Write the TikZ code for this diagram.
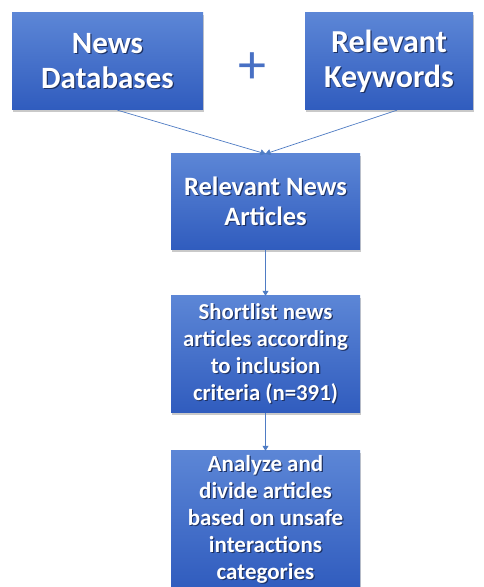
\documentclass[tikz,border=0pt]{standalone}
\usepackage{fontspec}
\setmainfont{Carlito}
\usetikzlibrary{arrows.meta,calc,shadows}
\definecolor{boxtop}{RGB}{92,134,214}
\definecolor{boxbot}{RGB}{48,92,190}
\definecolor{linecol}{RGB}{79,124,196}
\definecolor{pluscol}{RGB}{72,112,196}
\definecolor{txtshadow}{RGB}{30,50,100}
\newcommand\shd[1]{\makebox[0pt][l]{\hspace{1.2pt}\raisebox{-1.2pt}{\textcolor{txtshadow}{#1}}}#1}
\tikzset{
  bluebox/.style={rectangle, inner sep=0pt, top color=boxtop, bottom color=boxbot, draw=none,
    text=white, font=\bfseries, align=center,
    drop shadow={shadow xshift=1pt, shadow yshift=-2pt, opacity=0.35, fill=black!60}},
  conn/.style={draw=linecol, line width=0.7pt, -{Triangle[length=5pt,width=6pt]}}
}
\begin{document}
\begin{tikzpicture}[x=1pt,y=1pt]
\useasboundingbox (0,0) rectangle (483,587);
\fill[white] (0,0) rectangle (483,587);
\node[bluebox, minimum width=191pt, minimum height=97pt,
  font=\bfseries\fontsize{31}{35}\selectfont] (nd) at (107.5,525.5) {\shd{News}\\\shd{Databases}};
\node[bluebox, minimum width=168pt, minimum height=97pt,
  font=\bfseries\fontsize{32}{35}\selectfont] (rk) at (389,525.5) {\shd{Relevant}\\\shd{Keywords}};
\node[text=pluscol, font=\fontsize{56}{56}\selectfont, inner sep=0pt] (plus) at (252,519) {+};
\node[bluebox, minimum width=189pt, minimum height=96pt,
  font=\bfseries\fontsize{26.5}{30}\selectfont] (ra) at (265.5,385) {\shd{Relevant News}\\\shd{Articles}};
\node[bluebox, minimum width=189pt, minimum height=117pt,
  font=\bfseries\fontsize{22.8}{27}\selectfont] (sl) at (265.5,232.5) {\shd{Shortlist news}\\\shd{articles according}\\\shd{to inclusion}\\\shd{criteria (n=391)}};
\node[bluebox, minimum width=189pt, minimum height=138pt,
  font=\bfseries\fontsize{23}{27}\selectfont] (an) at (265.5,67) {\shd{Analyze and}\\\shd{divide articles}\\\shd{based on unsafe}\\\shd{interactions}\\\shd{categories}};
\coordinate (ndout) at ($(nd.south)+(10,0)$);
\coordinate (rkout) at ($(rk.south)+(8,0)$);
\draw[conn] (ndout) -- (ra.north);
\draw[conn] (rkout) -- (ra.north);
\draw[conn] (ra.south) -- (sl.north);
\draw[conn] (sl.south) -- (an.north);
\end{tikzpicture}
\end{document}
